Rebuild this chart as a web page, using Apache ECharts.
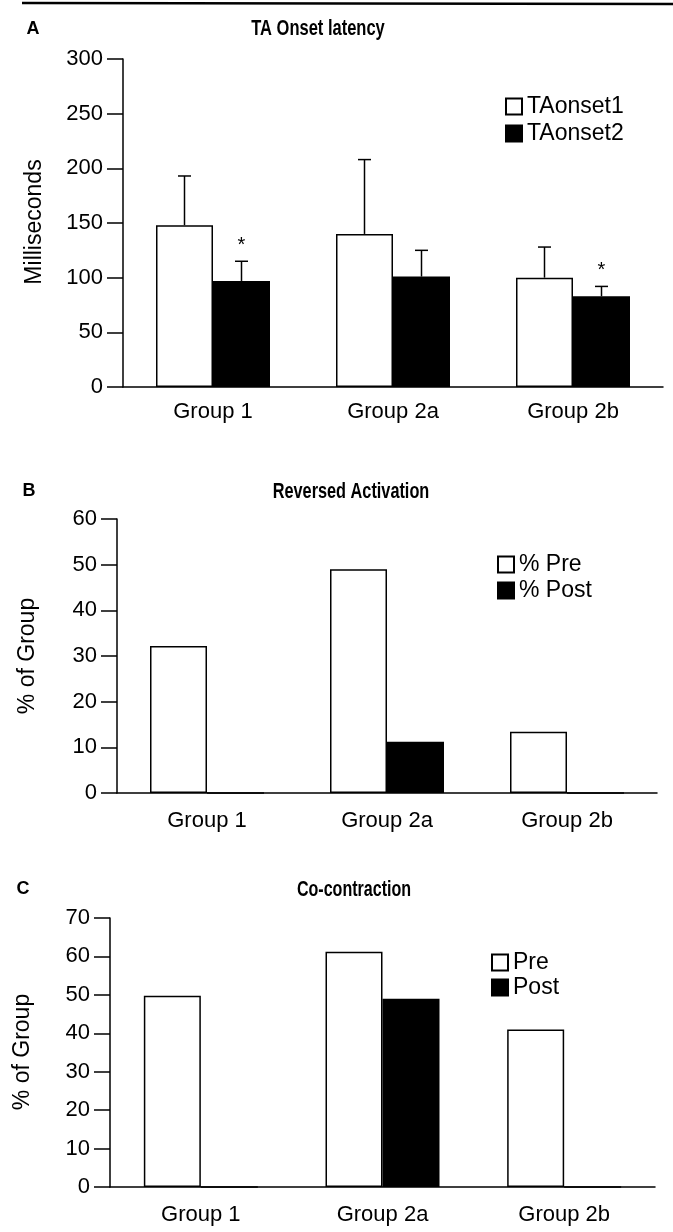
<!DOCTYPE html>
<html>
<head>
<meta charset="utf-8">
<script src="https://cdn.jsdelivr.net/npm/echarts@6/dist/echarts.min.js"></script>
<style>
html,body{margin:0;padding:0;background:#fff;}
#chart{width:673px;height:1232px;}
</style>
</head>
<body>
<div id="chart"></div>
<script>
// ---------- data ----------
const categories = ['Group 1', 'Group 2a', 'Group 2b'];

// Panel A: TA Onset latency (ms), means and upper SD
const taOnset1 = [148, 140, 100];
const taOnset1SD = [45, 68, 28];
const taOnset2 = [97, 101, 83];
const taOnset2SD = [18, 24, 9];
const taOnset1Sig = [0, 0, 0];
const taOnset2Sig = [1, 0, 1];
const ticksA = [0, 50, 100, 150, 200, 250, 300];

// Panel B: Reversed Activation (% of group)
const revPre = [32.2, 49, 13.4];
const revPost = [0, 11.2, 0];
const ticksB = [0, 10, 20, 30, 40, 50, 60];

// Panel C: Co-contraction (% of group)
const coPre = [49.8, 61.2, 41];
const coPost = [0, 49, 0];
const ticksC = [0, 10, 20, 30, 40, 50, 60, 70];

// ---------- style ----------
const FONT = "'Liberation Sans',Arial,Helvetica,sans-serif";
const BAR_W = 57;
const AXIS_LW = 1.5;

const chart = echarts.init(document.getElementById('chart'), null, {renderer: 'canvas'});

function xAxisFor(gridIndex, margin) {
  return {
    type: 'category', gridIndex, data: categories,
    axisLine: {lineStyle: {color: '#000', width: AXIS_LW}},
    axisTick: {show: false},
    axisLabel: {color: '#000', fontFamily: FONT, fontSize: 22, margin: margin}
  };
}
function yAxisFor(gridIndex, ticks) {
  return {
    type: 'value', gridIndex,
    min: ticks[0], max: ticks[ticks.length - 1], interval: ticks[1] - ticks[0],
    splitLine: {show: false},
    axisLine: {show: true, lineStyle: {color: '#000', width: AXIS_LW}},
    axisTick: {show: true, length: 16, inside: false, lineStyle: {color: '#000', width: AXIS_LW}},
    axisLabel: {color: '#000', fontFamily: FONT, fontSize: 22, margin: 20}
  };
}
function whiteBar(name, gi, data) {
  return {
    name, type: 'bar', xAxisIndex: gi, yAxisIndex: gi, data,
    barWidth: BAR_W, barGap: '0%',
    itemStyle: {color: '#fff', borderColor: '#000', borderWidth: 1.5},
    emphasis: {disabled: true}
  };
}
function blackBar(name, gi, data) {
  return {
    name, type: 'bar', xAxisIndex: gi, yAxisIndex: gi, data,
    barWidth: BAR_W, barGap: '0%',
    itemStyle: {color: '#000', borderColor: '#000', borderWidth: 1.5},
    emphasis: {disabled: true}
  };
}
function errorSeries(means, sds, sig, offset) {
  return {
    type: 'custom', xAxisIndex: 0, yAxisIndex: 0, z: 5,
    data: categories.map((c, i) => [i, means[i], sds[i], sig[i]]),
    encode: {x: 0, y: 1},
    renderItem: function (params, api) {
      const i = api.value(0), m = api.value(1), sd = api.value(2), s = api.value(3);
      const base = api.coord([i, m]);
      const top = api.coord([i, m + sd]);
      const x = base[0] + offset;
      const st = {stroke: '#000', lineWidth: 1.5};
      const children = [
        {type: 'line', shape: {x1: x, y1: base[1], x2: x, y2: top[1]}, style: st},
        {type: 'line', shape: {x1: x - 6.5, y1: top[1], x2: x + 6.5, y2: top[1]}, style: st}
      ];
      if (s) {
        children.push({type: 'text', x: x, y: top[1] - 16,
          style: {text: '*', textAlign: 'center', textVerticalAlign: 'middle',
                  font: "20px 'Liberation Sans', Arial, sans-serif", fill: '#000'}});
      }
      return {type: 'group', children};
    }
  };
}
function legendFor(names, left, top, gap) {
  return {
    data: names, orient: 'vertical', left, top,
    icon: 'rect', itemWidth: 16, itemHeight: 16, itemGap: gap,
    textStyle: {color: '#000', fontFamily: FONT, fontSize: 23, padding: [0, 0, 0, 0]},
    selectedMode: false
  };
}
function txt(text, x, y, size, bold, rot, sx) {
  return {type: 'text', x, y, rotation: rot || 0, scaleX: sx || 1,
    style: {text, textAlign: 'center', textVerticalAlign: 'middle',
            font: (bold ? 'bold ' : '') + size + 'px ' + FONT, fill: '#000'}};
}

const option = {
  animation: false,
  backgroundColor: '#fff',
  grid: [
    {left: 123, top: 59, width: 540, height: 328},
    {left: 117, top: 519, width: 540, height: 274},
    {left: 110, top: 918, width: 545, height: 269}
  ],
  xAxis: [xAxisFor(0, 14), xAxisFor(1, 17), xAxisFor(2, 17)],
  yAxis: [yAxisFor(0, ticksA), yAxisFor(1, ticksB), yAxisFor(2, ticksC)],
  legend: [
    legendFor(['TAonset1', 'TAonset2'], 500, 90, 4),
    legendFor(['% Pre', '% Post'], 492, 548, 3),
    legendFor(['Pre', 'Post'], 486, 946, 2)
  ],
  series: [
    whiteBar('TAonset1', 0, taOnset1),
    blackBar('TAonset2', 0, taOnset2),
    errorSeries(taOnset1, taOnset1SD, taOnset1Sig, -BAR_W / 2),
    errorSeries(taOnset2, taOnset2SD, taOnset2Sig, BAR_W / 2),
    whiteBar('% Pre', 1, revPre),
    blackBar('% Post', 1, revPost),
    whiteBar('Pre', 2, coPre),
    blackBar('Post', 2, coPost)
  ],
  graphic: [
    {type: 'line', shape: {x1: 22, y1: 3, x2: 673, y2: 4}, style: {stroke: '#000', lineWidth: 2.5}},
    txt('A', 33, 29, 18, true),
    txt('TA Onset latency', 318, 29, 22, true, 0, 0.75),
    txt('Milliseconds', 35, 222, 23, false, Math.PI / 2),
    txt('B', 29, 491, 18, true),
    txt('Reversed Activation', 351, 492, 22, true, 0, 0.74),
    txt('% of Group', 28, 656, 23, false, Math.PI / 2),
    txt('C', 23, 889, 18, true),
    txt('Co-contraction', 354, 890, 22, true, 0, 0.73),
    txt('% of Group', 23, 1052, 23, false, Math.PI / 2)
  ]
};
chart.setOption(option);
</script>
</body>
</html>
